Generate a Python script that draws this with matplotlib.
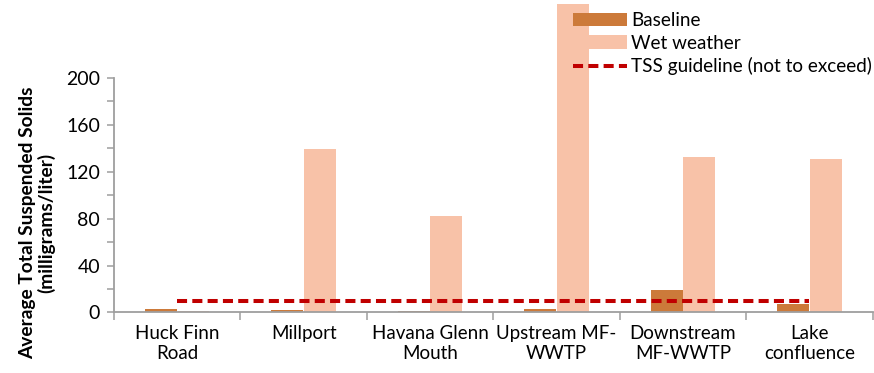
import matplotlib.pyplot as plt
import numpy as np

sites = ['Huck Finn\nRoad', 'Millport', 'Havana Glenn\nMouth', 'Upstream MF-\nWWTP',
         'Downstream\nMF-WWTP', 'Lake\nconfluence']
baseline = [3.2, 2, 1, 3, 19, 7]
wet_weather = [1.2, 139.5, 82, 263, 132.5, 131]
tss_guideline = 10

plt.rcParams['font.family'] = ['Lato', 'DejaVu Sans']

fig = plt.figure(figsize=(8.74, 3.73), dpi=100)
ax = fig.add_axes([0.1304, 0.1622, 0.868, 0.838])

x = np.arange(len(sites))
w = 0.252
b1 = ax.bar(x - 0.129, baseline, w, color='#CC7A3A', label='Baseline', zorder=2)
b2 = ax.bar(x + 0.129, wet_weather, w, color='#F8C2A8', label='Wet weather', zorder=2)
ln, = ax.plot([x[0], x[-1]], [tss_guideline, tss_guideline], color='#C00000', lw=2.9,
              dashes=(2.5, 1.3), label='TSS guideline (not to exceed)', zorder=3)

ax.set_xlim(-0.5, len(sites) - 0.5)
ax.set_ylim(0, 266.5)
ax.set_yticks(np.arange(0, 201, 40))
ax.set_yticks(np.arange(20, 200, 40), minor=True)
ax.set_xticks(np.arange(-0.5, len(sites), 1))
ax.set_xticklabels([])
ax.set_xticks(x, minor=True)
ax.set_xticklabels(sites, minor=True)

for s in ['top', 'right']:
    ax.spines[s].set_visible(False)
ax.spines['left'].set_bounds(0, 200)
for s in ['left', 'bottom']:
    ax.spines[s].set_color('#9E9E9E')
    ax.spines[s].set_linewidth(1.3)

ax.tick_params(axis='y', which='both', length=5, width=1.1, color='#9E9E9E',
               labelsize=14, pad=5)
ax.tick_params(axis='x', which='major', length=6, width=1.1, color='#9E9E9E')
ax.tick_params(axis='x', which='minor', length=0, labelsize=13.5, pad=9)
for t in ax.get_xticklabels(minor=True):
    t.set_linespacing(1.25)

ax.set_ylabel('Average Total Suspended Solids\n(milligrams/liter)', fontsize=13.8,
              fontweight='bold', linespacing=1.05)
ax.yaxis.set_label_coords(-0.078, 0.286)

ax.legend([b1, b2, ln], [b1.get_label(), b2.get_label(), ln.get_label()],
          loc='upper left', bbox_to_anchor=(573 / 874, 1 - 12 / 373),
          bbox_transform=fig.transFigure, frameon=False, fontsize=13.6,
          handlelength=2.85, handleheight=0.72, handletextpad=0.22,
          labelspacing=0.3, borderpad=0, borderaxespad=0)

fig.savefig('out.png', dpi=100)
